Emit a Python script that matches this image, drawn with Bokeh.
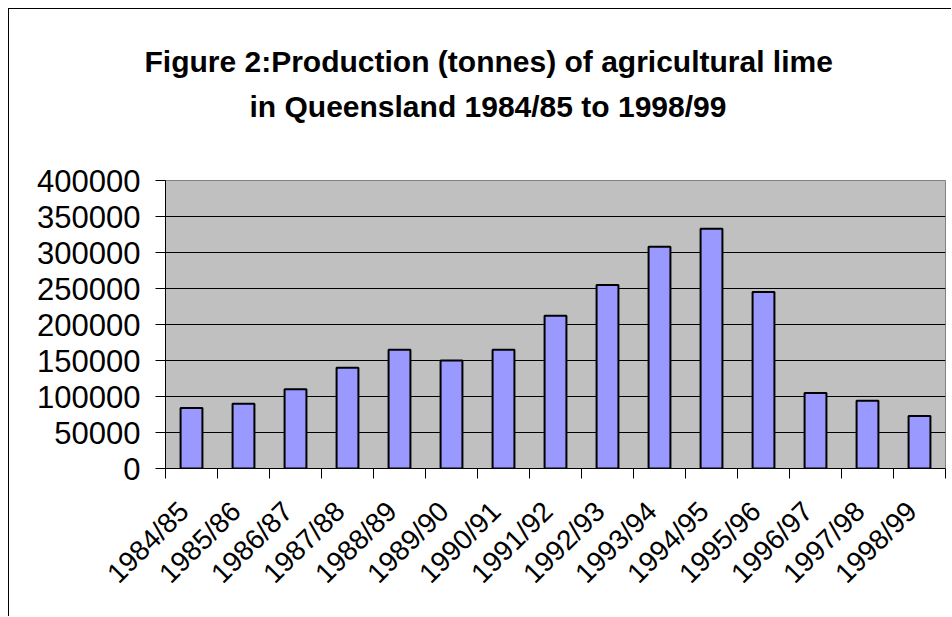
from bokeh.plotting import figure
from bokeh.models import Range1d, FixedTicker, Title, BasicTickFormatter
from bokeh.embed import file_html
from bokeh.resources import INLINE
import math

categories = ["1984/85", "1985/86", "1986/87", "1987/88", "1988/89", "1989/90",
              "1990/91", "1991/92", "1992/93", "1993/94", "1994/95", "1995/96",
              "1996/97", "1997/98", "1998/99"]
production = [84000, 90000, 110000, 140000, 165000, 150000, 165000, 212000,
              255000, 308000, 333000, 245000, 105000, 94000, 73000]
y_ticks = [0, 50000, 100000, 150000, 200000, 250000, 300000, 350000, 400000]
title_line1 = "Figure 2:Production (tonnes) of agricultural lime"
title_line2 = "in Queensland 1984/85 to 1998/99"

n = len(categories)
idx = list(range(n))
label_pos = [i - 0.15 for i in idx]

p = figure(width=943, height=608, output_backend="svg", toolbar_location=None,
           x_range=Range1d(-0.5, n - 0.5), y_range=Range1d(y_ticks[0], y_ticks[-1]),
           min_border_left=156, min_border_right=7, min_border_top=0,
           min_border_bottom=149, title=None,
           styles={"margin-left": "8px", "margin-top": "8px",
                   "border-top": "1px solid #000000", "border-left": "1px solid #000000"})

FONT = "Liberation Sans"
# titles stacked outward from the frame: spacer, line 2, line 1, spacer
p.add_layout(Title(text=" ", text_font=FONT, text_font_size="29px", standoff=19), "above")
p.add_layout(Title(text=title_line2, text_font=FONT, text_font_size="30px",
                   text_font_style="bold", text_color="#000000", align="left",
                   offset=84, standoff=10), "above")
p.add_layout(Title(text=title_line1, text_font=FONT, text_font_size="30px",
                   text_font_style="bold", text_color="#000000", align="left",
                   offset=-21, standoff=10), "above")
p.add_layout(Title(text=" ", text_font=FONT, text_font_size="10px", standoff=15), "above")

p.background_fill_color = "#C0C0C0"
p.border_fill_color = "#FFFFFF"
p.outline_line_color = "#808080"
p.outline_line_width = 1

p.vbar(x=idx, top=production, width=0.42, bottom=0,
       fill_color="#9999FF", line_color="#000000", line_width=2)

# x axis: labels near centres, tick marks at category boundaries
p.xaxis.ticker = FixedTicker(ticks=label_pos, minor_ticks=[i - 0.5 for i in range(n + 1)])
p.xaxis.major_label_overrides = {pos: c for pos, c in zip(label_pos, categories)}
p.xaxis.major_label_orientation = math.pi / 4
p.xaxis.major_tick_out = 0
p.xaxis.major_tick_in = 0
p.xaxis.minor_tick_out = 10
p.xaxis.minor_tick_in = 0
p.xaxis.minor_tick_line_color = "#000000"
p.xaxis.major_label_standoff = 28
p.xaxis.major_label_text_font = FONT
p.xaxis.major_label_text_font_size = "28px"
p.xaxis.major_label_text_color = "#000000"
p.xaxis.axis_line_color = "#000000"
p.xaxis.axis_line_width = 1

p.yaxis.ticker = FixedTicker(ticks=y_ticks)
p.yaxis.formatter = BasicTickFormatter(use_scientific=False)
p.yaxis.major_tick_out = 10
p.yaxis.major_tick_in = 0
p.yaxis.minor_tick_out = 0
p.yaxis.minor_tick_in = 0
p.yaxis.major_tick_line_color = "#000000"
p.yaxis.major_label_standoff = 15
p.yaxis.major_label_text_font = FONT
p.yaxis.major_label_text_font_size = "31px"
p.yaxis.major_label_text_color = "#000000"
p.yaxis.axis_line_color = "#000000"

p.xgrid.grid_line_color = None
p.ygrid.grid_line_color = "#000000"
p.ygrid.grid_line_width = 1
p.ygrid.ticker = FixedTicker(ticks=y_ticks)

open("out.html", "w").write(file_html(p, INLINE))
